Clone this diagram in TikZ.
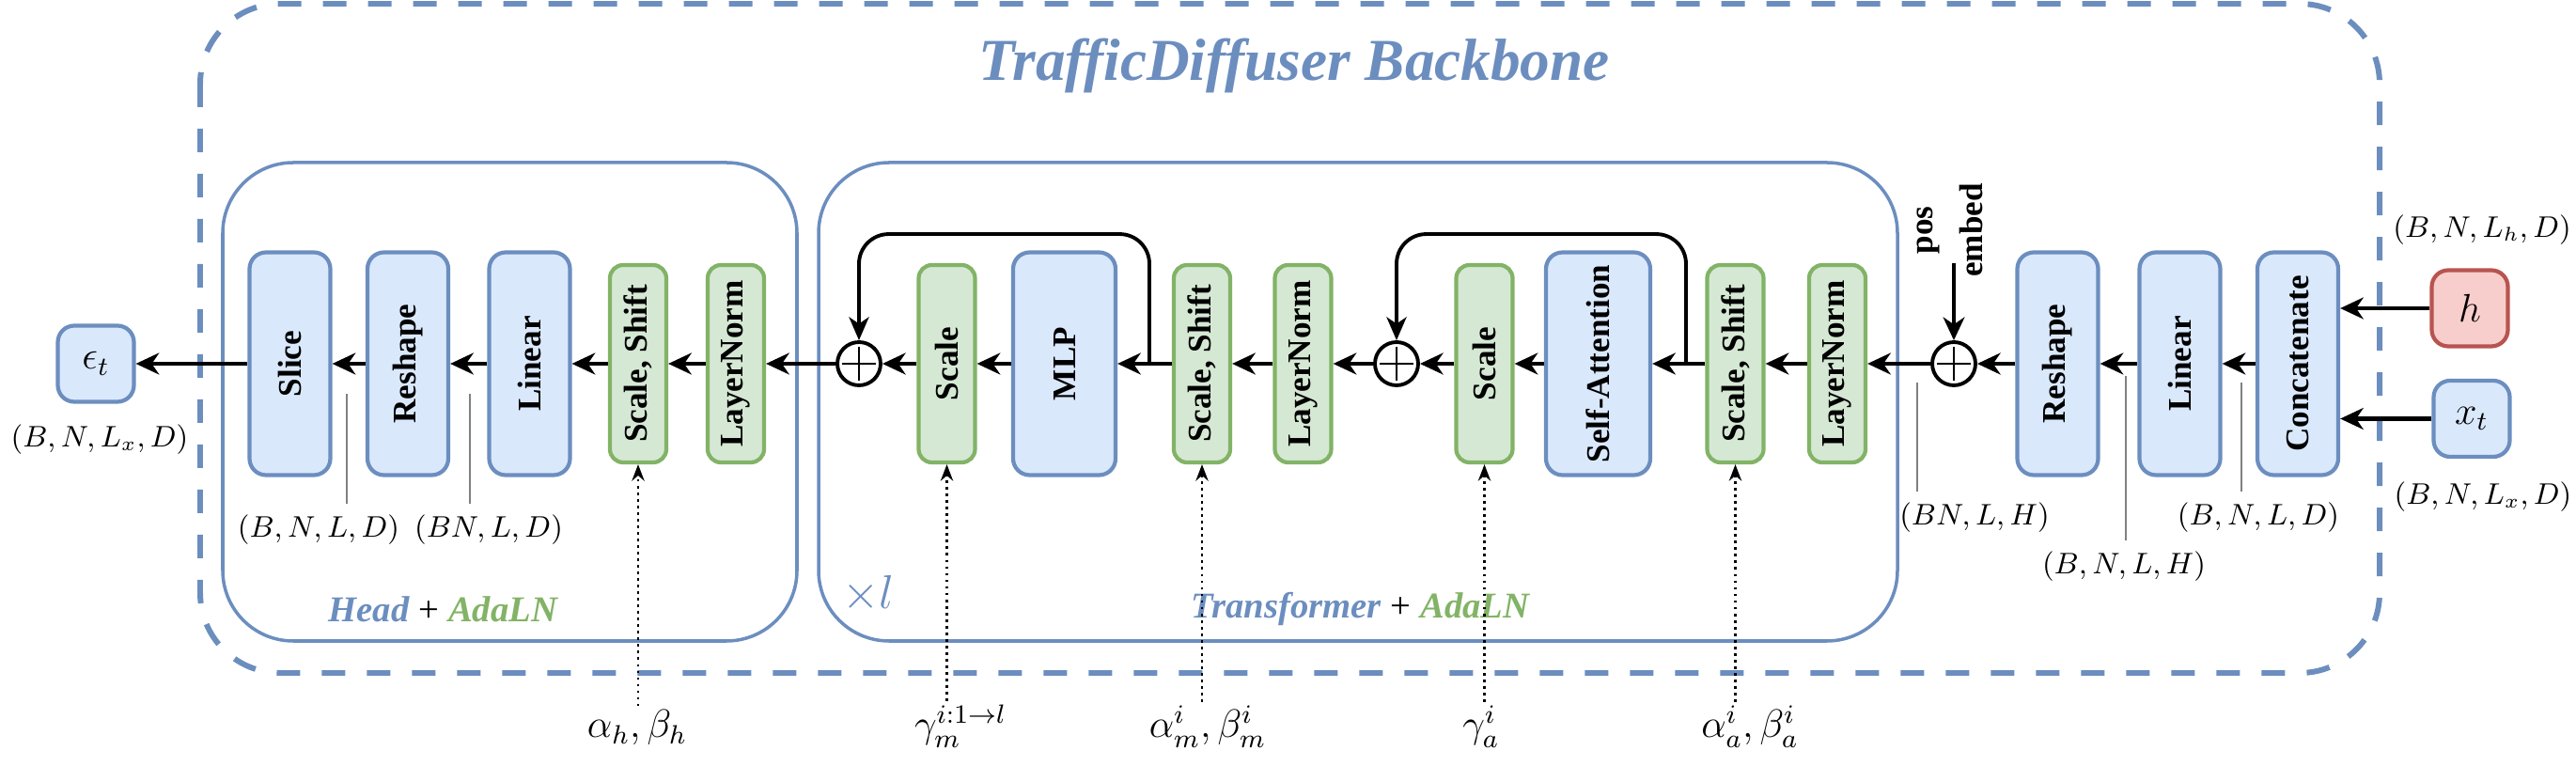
\documentclass[tikz,border=0pt]{standalone}
\usepackage[no-math]{fontspec}
\setmainfont{Liberation Serif}
\usepackage{amsmath}
\usepackage{graphicx}
\usetikzlibrary{arrows.meta}
\definecolor{dioblue}{HTML}{6C8EBF}
\definecolor{diobluefill}{HTML}{DAE8FC}
\definecolor{diogreen}{HTML}{82B366}
\definecolor{diogreenfill}{HTML}{D5E8D4}
\definecolor{diored}{HTML}{B85450}
\definecolor{dioredfill}{HTML}{F8CECC}
\newcommand{\vlabel}[1]{\rotatebox{90}{\textbf{#1}}}

\begin{document}
\begin{tikzpicture}[
	bluebox/.style={draw=dioblue,fill=diobluefill,line width=1.2pt,rounded corners=5pt,minimum width=.86cm,minimum height=2.37cm,inner sep=0pt},
	greenbox/.style={draw=diogreen,fill=diogreenfill,line width=1.2pt,rounded corners=4pt,minimum width=.6cm,minimum height=2.1cm,inner sep=0pt},
	varbox/.style={draw=dioblue,fill=diobluefill,line width=1.2pt,rounded corners=5pt,minimum size=.81cm,font=\large},
	plusnode/.style={circle,draw,line width=1.1pt,minimum size=.46cm,inner sep=0pt,
		path picture={\draw[line width=.8pt] ([yshift=-1.5pt]path picture bounding box.north) -- ([yshift=1.5pt]path picture bounding box.south)
			([xshift=1.5pt]path picture bounding box.west) -- ([xshift=-1.5pt]path picture bounding box.east);}},
	flow/.style={line width=1.4pt,-{Stealth[length=7pt,width=6.5pt,inset=2.2pt]}},
	skip/.style={line width=1.1pt,rounded corners=9pt,-{Stealth[length=7pt,width=6pt,inset=2pt]}},
	cond/.style={line width=.6pt,dash pattern=on .8pt off 1.2pt,-{Stealth[length=5pt,width=3.8pt]}},
	dim/.style={gray,line width=.5pt},
	dimlabel/.style={font=\fontsize{9}{11}\selectfont},
	param/.style={font=\large,inner sep=1pt,anchor=base},
	frame/.style={draw=dioblue,line width=1pt,rounded corners=.75cm},
	backbone/.style={draw=dioblue,line width=1.7pt,rounded corners=.85cm,dash pattern=on .25cm off .23cm}]
\useasboundingbox (0,0) rectangle (27.41,-8.15);

% frames
\draw[backbone] (2.13,-0.04) rectangle (25.32,-7.16);
\draw[frame] (2.37,-1.73) rectangle (8.48,-6.82);
\draw[frame] (8.71,-1.73) rectangle (20.19,-6.82);
\node[font=\fontsize{18}{22}\selectfont\bfseries\itshape,text=dioblue] (title) at (13.77,-.70) {TrafficDiffuser Backbone};
\node[font=\fontsize{11}{13}\selectfont] (headlab) at (4.72,-6.48) {\textcolor{dioblue}{\textbf{\textit{Head}}} + \textcolor{diogreen}{\textbf{\textit{AdaLN}}}};
\node[font=\fontsize{11}{13}\selectfont] (trlab) at (14.48,-6.48) {\textcolor{dioblue}{\textbf{\textit{Transformer}}} + \textcolor{diogreen}{\textbf{\textit{AdaLN}}}};
\node[text=dioblue,font=\Large] (rep) at (9.24,-6.32) {$\times l$};

% main row
\node[varbox] (eps) at (1.02,-3.87) {$\epsilon_t$};
\node[bluebox] (slice) at (3.085,-3.87) {\vlabel{Slice}};
\node[bluebox] (hreshape) at (4.34,-3.87) {\vlabel{Reshape}};
\node[bluebox] (hlinear) at (5.635,-3.87) {\vlabel{Linear}};
\node[greenbox] (hscsh) at (6.79,-3.87) {\vlabel{Scale, Shift}};
\node[greenbox] (hln) at (7.83,-3.87) {\vlabel{LayerNorm}};
\node[plusnode] (plusm) at (9.14,-3.87) {};
\node[greenbox] (scm) at (10.075,-3.87) {\vlabel{Scale}};
\node[bluebox,minimum width=1.09cm] (mlp) at (11.325,-3.87) {\vlabel{MLP}};
\node[greenbox] (scshm) at (12.79,-3.87) {\vlabel{Scale, Shift}};
\node[greenbox] (lnm) at (13.865,-3.87) {\vlabel{LayerNorm}};
\node[plusnode] (plusa) at (14.86,-3.87) {};
\node[greenbox] (sca) at (15.795,-3.87) {\vlabel{Scale}};
\node[bluebox,minimum width=1.11cm] (attn) at (17.005,-3.87) {\vlabel{Self-Attention}};
\node[greenbox] (scsha) at (18.465,-3.87) {\vlabel{Scale, Shift}};
\node[greenbox] (lna) at (19.55,-3.87) {\vlabel{LayerNorm}};
\node[plusnode] (pluspos) at (20.79,-3.87) {};
\node[bluebox] (reshape) at (21.895,-3.87) {\vlabel{Reshape}};
\node[bluebox] (linear) at (23.195,-3.87) {\vlabel{Linear}};
\node[bluebox] (concat) at (24.45,-3.87) {\vlabel{Concatenate}};
\node[varbox,draw=diored,fill=dioredfill] (h) at (26.28,-3.28) {$h$};
\node[varbox] (xt) at (26.30,-4.455) {$x_t$};

\foreach \a/\b in {concat/linear,linear/reshape,reshape/pluspos,pluspos/lna,lna/scsha,scsha/attn,attn/sca,sca/plusa,
	plusa/lnm,lnm/scshm,scshm/mlp,mlp/scm,scm/plusm,plusm/hln,hln/hscsh,hscsh/hlinear,hlinear/hreshape,hreshape/slice,slice/eps}
	\draw[flow] (\a) -- (\b);
\draw[flow] (h) -- (h -| concat.east);
\draw[flow] (xt) -- (xt -| concat.east);

% residual paths
\coordinate (skm) at (12.23,-3.87);
\coordinate (ska) at (17.94,-3.87);
\draw[skip] (skm) |- ([yshift=1.13cm]plusm.north) -- (plusm.north);
\draw[skip] (ska) |- ([yshift=1.13cm]plusa.north) -- (plusa.north);

% positional embedding
\node[font=\bfseries,rotate=90,align=center] (posemb) at (20.75,-2.45) {pos\\[3pt]embed};
\coordinate (posin) at (20.79,-2.80);
\draw[flow,line width=1pt] (posin) -- (pluspos.north);

% tensor shapes
\node[dimlabel] (epsdim) at (1.06,-4.68) {$(B,N,L_x,D)$};
\node[dimlabel] (hdim) at (26.41,-2.45) {$(B,N,L_h,D)$};
\node[dimlabel] (xtdim) at (26.42,-5.29) {$(B,N,L_x,D)$};
\node[dimlabel] (dslice) at (3.39,-5.64) {$(B,N,L,D)$};
\node[dimlabel] (dhres) at (5.20,-5.64) {$(BN,L,D)$};
\node[dimlabel] (dpos) at (21.01,-5.51) {$(BN,L,H)$};
\node[dimlabel] (dres) at (22.60,-6.03) {$(B,N,L,H)$};
\node[dimlabel] (dlin) at (24.03,-5.51) {$(B,N,L,D)$};
\coordinate (tslice) at (3.69,-4.19);
\coordinate (thres) at (5.00,-4.19);
\coordinate (tpos) at (20.40,-4.07);
\coordinate (tres) at (22.62,-4.00);
\coordinate (tlin) at (23.85,-4.07);
\foreach \t/\d in {tslice/dslice,thres/dhres,tpos/dpos,tres/dres,tlin/dlin}
	\draw[dim] (\t) -- (\t |- \d.north);

% AdaLN parameters
\node[param] (ah) at (6.78,-7.85) {$\alpha_h,\beta_h$};
\node[param] (gm) at (10.22,-7.85) {$\gamma_m^{i:1\rightarrow l}$};
\node[param] (am) at (12.85,-7.85) {$\alpha_m^i,\beta_m^i$};
\node[param] (ga) at (15.76,-7.85) {$\gamma_a^i$};
\node[param] (aa) at (18.62,-7.85) {$\alpha_a^i,\beta_a^i$};
\foreach \p/\b in {ah/hscsh,gm/scm,am/scshm,ga/sca,aa/scsha}
	\draw[cond] (\b.south |- \p.north) -- (\b.south);
\end{tikzpicture}
\end{document}
